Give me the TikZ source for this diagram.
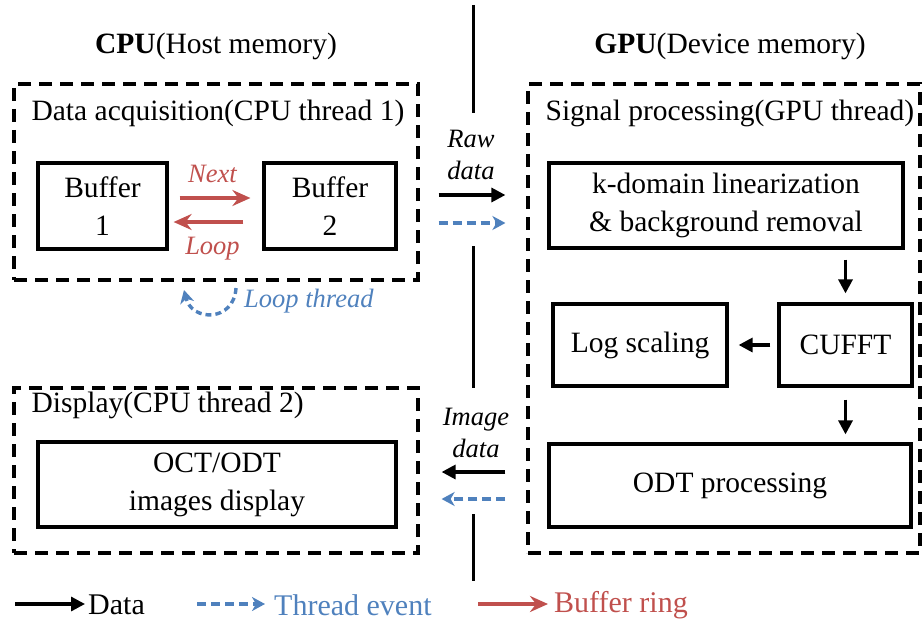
\documentclass[tikz,border=0pt]{standalone}
\usepackage{fontspec}
\setmainfont{Liberation Serif}
\usepackage{xcolor}
\usetikzlibrary{arrows.meta,calc,positioning}
\definecolor{ringred}{RGB}{192,80,77}
\definecolor{eventblue}{RGB}{79,129,189}

\begin{document}
\begin{tikzpicture}[x=1pt,y=-1pt,font=\fontsize{29.5}{38}\selectfont]
  \tikzstyle{block}=[draw,line width=3.2pt,align=center,inner sep=0pt]
  \tikzstyle{thread}=[draw,dash pattern=on 13pt off 8pt,line width=3.2pt,inner sep=0pt]
  \tikzstyle{title}=[anchor=west,inner sep=0pt]
  \tikzstyle{tag}=[inner sep=0pt,align=center,font=\fontsize{26.5}{32}\selectfont\itshape]
  \tikzstyle{dataarrow}=[line width=3.2pt,-{Triangle[length=14pt,width=14pt]}]
  \tikzstyle{eventarrow}=[eventblue,line width=3.4pt,dash pattern=on 9pt off 5pt,-{Stealth[length=13pt,width=14pt,inset=4pt]}]
  \tikzstyle{ringarrow}=[ringred,line width=3.6pt,-{Stealth[length=18pt,width=16pt,inset=6pt]}]
  \useasboundingbox (0,0) rectangle (923,623);

  % host / device headings
  \node (cpu) at (216,46) {\textbf{CPU}(Host memory)};
  \node (gpu) at (730,46) {\textbf{GPU}(Device memory)};
  \draw[line width=3pt] (473,5) -- (473,113);
  \draw[line width=3pt] (473,246) -- (473,388);
  \draw[line width=3pt] (473,514) -- (473,581);

  % data acquisition
  \node[thread,minimum width=404pt,minimum height=196pt] (acq) at (216,182) {};
  \node[title] (acqtitle) at ($(acq.north west)+(19,31)$) {Data acquisition(CPU thread 1)};
  \node[block,minimum width=129pt,minimum height=86pt] (buf1) at (102.5,206) {Buffer\\1};
  \node[block,minimum width=132pt,minimum height=86pt] (buf2) at (330,206) {Buffer\\2};
  \draw[ringarrow] ($(buf1.east)+(11,-8)$) -- ($(buf2.west)+(-12,-8)$);
  \draw[ringarrow] ($(buf2.west)+(-19,16)$) -- ($(buf1.east)+(5,16)$);
  \node[tag,text=ringred] (next) at ($(buf1.east)!0.5!(buf2.west)+(-3,-32)$) {Next};
  \node[tag,text=ringred] (loop) at ($(buf1.east)!0.5!(buf2.west)+(-3,43)$) {Loop};
  \coordinate (lt1) at (236,288);
  \coordinate (lt2) at (184,290);
  \draw[eventarrow,dash pattern=on 6pt off 4pt] (lt1) .. controls (234,322) and (192,322) .. (lt2);
  \node[tag,text=eventblue,anchor=west] (ltlabel) at (244,301) {Loop thread};

  % display
  \node[thread,minimum width=404pt,minimum height=165pt] (disp) at (216,470.5) {};
  \node[title] (disptitle) at ($(disp.north west)+(19,19)$) {Display(CPU thread 2)};
  \node[block,minimum width=358pt,minimum height=85pt] (show) at (217,484.5) {OCT/ODT\\images display};

  % signal processing
  \node[thread,minimum width=392pt,minimum height=469pt] (sig) at (724,318.5) {};
  \node[title] (sigtitle) at ($(sig.north west)+(19,31)$) {Signal processing(GPU thread)};
  \node[block,minimum width=354pt,minimum height=85pt] (kdom) at (726,205.5) {k-domain linearization\\\& background removal};
  \node[block,minimum width=133pt,minimum height=82pt] (cufft) at (845.5,345) {CUFFT};
  \node[block,minimum width=174pt,minimum height=82pt] (logs) at (640,345) {Log scaling};
  \node[block,minimum width=362pt,minimum height=83pt] (odt) at (730,485.5) {ODT processing};
  \draw[dataarrow,shorten <=10pt,shorten >=9pt] (kdom.south -| cufft.north) -- (cufft.north);
  \draw[dataarrow,shorten <=7pt,shorten >=10pt] (cufft.west) -- (logs.east);
  \draw[dataarrow,shorten <=12pt,shorten >=8pt] (cufft.south) -- (cufft.south |- odt.north);

  % transfers host <-> device
  \node[tag] (raw) at (471,155) {Raw\\data};
  \draw[dataarrow] ($(acq.east)+(19,13)$) -- ($(sig.west |- acq.east)+(-21,13)$);
  \draw[eventarrow] ($(acq.east)+(19,41)$) -- ($(sig.west |- acq.east)+(-21,41)$);
  \node[tag] (image) at (476,433) {Image\\data};
  \draw[dataarrow] ($(sig.west |- disp.east)+(-21,1.5)$) -- ($(disp.east)+(22,1.5)$);
  \draw[eventarrow] ($(sig.west |- disp.east)+(-21,28.5)$) -- ($(disp.east)+(22,28.5)$);

  % legend
  \coordinate (leg1) at (15,604);
  \coordinate (leg2) at (197,604);
  \coordinate (leg3) at (478,604);
  \node[title,font=\fontsize{30}{36}\selectfont] (legdata) at (88,605) {Data};
  \node[title,text=eventblue,font=\fontsize{30}{36}\selectfont] (legevent) at (274,605) {Thread event};
  \node[title,text=ringred,font=\fontsize{30}{36}\selectfont] (legring) at (554,605) {Buffer ring};
  \draw[dataarrow,shorten >=3pt] (leg1) -- (leg1 -| legdata.west);
  \draw[eventarrow,shorten >=9pt] (leg2) -- (leg2 -| legevent.west);
  \draw[ringarrow,shorten >=6pt] (leg3) -- (leg3 -| legring.west);
\end{tikzpicture}
\end{document}
